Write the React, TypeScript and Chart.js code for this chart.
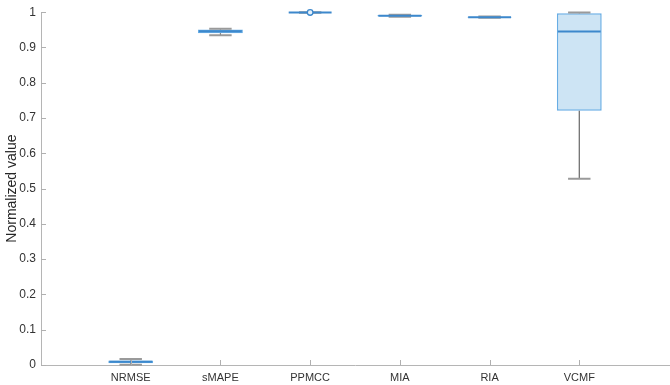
import React, { useEffect, useRef } from "react";
import { Chart, registerables } from "chart.js";

Chart.register(...registerables);

const categories = ["NRMSE", "sMAPE", "PPMCC", "MIA", "RIA", "VCMF"];
const whiskerLow = [0.001, 0.935, 0.9985, 0.987, 0.984, 0.528];
const q1 = [0.005, 0.94, 0.9988, 0.988, 0.985, 0.721];
const median = [0.009, 0.946, 0.9992, 0.99, 0.986, 0.945];
const q3 = [0.013, 0.951, 0.9996, 0.992, 0.987, 0.997];
const whiskerHigh = [0.017, 0.953, 0.9998, 0.993, 0.988, 0.999];
const outlierCat = [2];
const outlierVal = [0.9993];
const yTicks = [0, 0.1, 0.2, 0.3, 0.4, 0.5, 0.6, 0.7, 0.8, 0.9, 1];

const labels = ["", ...categories, ""];

const boxPlugin = {
  id: "boxExtras",
  afterDatasetsDraw(chart: any) {
    const ctx = chart.ctx;
    const x = chart.scales.x;
    const y = chart.scales.y;
    const unit = x.getPixelForValue(1) - x.getPixelForValue(0);
    const capHalf = unit * 0.125;
    const boxHalf = unit * 0.25;
    ctx.save();
    categories.forEach((_, i) => {
      const cx = x.getPixelForValue(i + 1);
      // whiskers
      ctx.strokeStyle = "#666666";
      ctx.lineWidth = 1.2;
      ctx.beginPath();
      ctx.moveTo(cx, y.getPixelForValue(q3[i]));
      ctx.lineTo(cx, y.getPixelForValue(whiskerHigh[i]));
      ctx.moveTo(cx, y.getPixelForValue(q1[i]));
      ctx.lineTo(cx, y.getPixelForValue(whiskerLow[i]));
      ctx.stroke();
      // caps
      ctx.strokeStyle = "#9a9a9a";
      ctx.lineWidth = 2;
      ctx.beginPath();
      ctx.moveTo(cx - capHalf, y.getPixelForValue(whiskerHigh[i]));
      ctx.lineTo(cx + capHalf, y.getPixelForValue(whiskerHigh[i]));
      ctx.moveTo(cx - capHalf, y.getPixelForValue(whiskerLow[i]));
      ctx.lineTo(cx + capHalf, y.getPixelForValue(whiskerLow[i]));
      ctx.stroke();
      // median
      ctx.strokeStyle = "#3d88cc";
      ctx.lineWidth = 2;
      ctx.beginPath();
      ctx.moveTo(cx - boxHalf + 1, y.getPixelForValue(median[i]));
      ctx.lineTo(cx + boxHalf - 1, y.getPixelForValue(median[i]));
      ctx.stroke();
    });
    // outliers
    outlierCat.forEach((c, k) => {
      const cx = x.getPixelForValue(c + 1);
      const cy = y.getPixelForValue(outlierVal[k]);
      ctx.beginPath();
      ctx.arc(cx, cy, 2.8, 0, Math.PI * 2);
      ctx.fillStyle = "#e6f1fa";
      ctx.fill();
      ctx.strokeStyle = "#3d88cc";
      ctx.lineWidth = 1.3;
      ctx.stroke();
    });
    // inside tick marks
    ctx.strokeStyle = "#b0b0b0";
    ctx.lineWidth = 1;
    ctx.beginPath();
    yTicks.forEach((v) => {
      const py = Math.round(y.getPixelForValue(v)) + 0.5;
      ctx.moveTo(x.left, py);
      ctx.lineTo(x.left + 5, py);
    });
    categories.forEach((_, i) => {
      const px = Math.round(x.getPixelForValue(i + 1)) + 0.5;
      ctx.moveTo(px, y.bottom);
      ctx.lineTo(px, y.bottom - 5);
    });
    ctx.stroke();
    ctx.restore();
  },
};

export default function App() {
  const ref = useRef<HTMLCanvasElement>(null);
  useEffect(() => {
    document.body.style.margin = "0";
    const chart = new Chart(ref.current as HTMLCanvasElement, {
      type: "bar",
      data: {
        labels,
        datasets: [
          {
            data: [null, ...categories.map((_, i) => [q1[i], q3[i]]), null] as any,
            backgroundColor: "rgba(196, 223, 242, 0.85)",
            borderColor: "#68ade4",
            borderWidth: 1.5,
            borderSkipped: false,
            categoryPercentage: 1,
            barPercentage: 0.5,
          },
        ],
      },
      options: {
        responsive: false,
        animation: false,
        events: [],
        layout: { padding: { top: 12, right: 1, left: 0, bottom: 0 } },
        plugins: { legend: { display: false }, tooltip: { enabled: false } },
        scales: {
          x: {
            type: "category",
            offset: false,
            grid: { display: false, drawTicks: false },
            border: { display: true, color: "#b5b5b5", width: 1 },
            ticks: {
              padding: 6,
              color: "#333333",
              maxRotation: 0,
              autoSkip: false,
              font: { family: "Liberation Sans, Arial, sans-serif", size: 11 },
            },
            afterFit: (s: any) => {
              s.height = 20;
              s.paddingLeft = 0;
              s.paddingRight = 0;
            },
          },
          y: {
            type: "linear",
            min: 0,
            max: 1,
            grid: { display: false, drawTicks: false },
            border: { display: true, color: "#b5b5b5", width: 1 },
            ticks: {
              stepSize: 0.1,
              padding: 5,
              color: "#333333",
              callback: (v: any) => String(Math.round(Number(v) * 10) / 10),
              font: { family: "Liberation Sans, Arial, sans-serif", size: 12 },
            },
            title: {
              display: true,
              text: "Normalized value",
              color: "#262626",
              padding: { top: 4, bottom: 0 },
              font: { family: "Liberation Sans, Arial, sans-serif", size: 14 },
            },
            afterFit: (s: any) => {
              s.width = 41;
            },
          },
        },
      },
      plugins: [boxPlugin],
    });
    return () => chart.destroy();
  }, []);
  return (
    <div style={{ width: 670, height: 385 }}>
      <canvas ref={ref} width={670} height={385} />
    </div>
  );
}
